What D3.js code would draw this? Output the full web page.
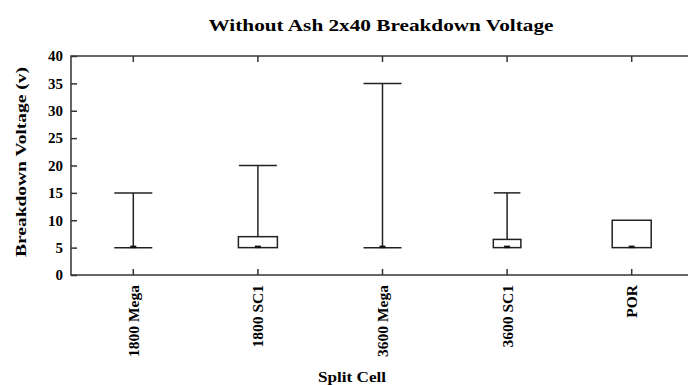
<!DOCTYPE html>
<html><head><meta charset="utf-8">
<script src="https://cdn.jsdelivr.net/npm/d3@7/dist/d3.min.js"></script>
<style>
html,body{margin:0;padding:0;background:#fff;}
svg{display:block;}
</style></head>
<body>
<svg id="chart" width="688" height="385"></svg>
<script>
const categories = ["1800 Mega", "1800 SC1", "3600 Mega", "3600 SC1", "POR"];
const minVals    = [5, 5, 5, 5, 5];
const q1Vals     = [5, 5, 5, 5, 5];
const medianVals = [5, 5, 5, 5, 5];
const q3Vals     = [5, 7, 5, 6.5, 10];
const maxVals    = [15, 20, 35, 15, 10];
const counts     = [2, 2, 2, 1, 2];
const yTicks     = [0, 5, 10, 15, 20, 25, 30, 35, 40];

(function () {
const FONT = "'Liberation Serif', 'Times New Roman', Times, serif";
const svg = d3.select("#chart");
const mLeft = 71, mRight = 694, mTop = 56, mBottom = 275;

const x = d3.scaleBand().domain(categories).range([mLeft, mRight]);
const y = d3.scaleLinear().domain([0, 40]).range([mBottom, mTop]);
const w = d3.scaleSqrt().domain([0, 2]).range([0, 39]);

svg.append("rect").attr("x", mLeft).attr("y", mTop)
  .attr("width", mRight - mLeft).attr("height", mBottom - mTop)
  .attr("fill", "none").attr("stroke", "#333").attr("stroke-width", 1.5);

const yAxis = d3.axisLeft(y).tickValues(yTicks).tickSize(-6);
const gy = svg.append("g").attr("transform", `translate(${mLeft},0)`).call(yAxis);
gy.select(".domain").remove();
gy.selectAll(".tick line").attr("stroke", "#333").attr("stroke-width", 1.5);
gy.selectAll(".tick text").attr("font-family", FONT).attr("font-weight", "bold")
  .attr("font-size", 15).attr("fill", "#000").attr("x", -8);
const gr = svg.append("g").attr("transform", `translate(${mRight},0)`)
  .call(d3.axisRight(y).tickValues(yTicks).tickSize(-6).tickFormat(""));
gr.select(".domain").remove();
gr.selectAll(".tick line").attr("stroke", "#333").attr("stroke-width", 1.5);

const gx = svg.append("g").attr("transform", `translate(0,${mBottom})`)
  .call(d3.axisBottom(x).tickSize(-6).tickSizeOuter(0));
gx.select(".domain").remove();
gx.selectAll(".tick line").attr("stroke", "#333").attr("stroke-width", 1.5);
gx.selectAll(".tick text")
  .attr("font-family", FONT).attr("font-weight", "bold").attr("font-size", 15.5).attr("fill", "#000")
  .attr("transform", "rotate(-90)")
  .attr("text-anchor", "end")
  .attr("x", -10).attr("y", 0).attr("dy", "0.35em");
const gt = svg.append("g").attr("transform", `translate(0,${mTop})`)
  .call(d3.axisTop(x).tickSize(-6).tickSizeOuter(0).tickFormat(""));
gt.select(".domain").remove();
gt.selectAll(".tick line").attr("stroke", "#333").attr("stroke-width", 1.5);

const data = categories.map((c, i) => ({c, min: minVals[i], q1: q1Vals[i], med: medianVals[i], q3: q3Vals[i], max: maxVals[i], n: counts[i]}));
const g = svg.append("g");
data.forEach(d => {
  const cx = x(d.c) + x.bandwidth() / 2;
  const bw = w(d.n);
  const capW = bw - 1;
  const s = "#222";
  if (d.max > d.q3) {
    g.append("line").attr("x1", cx).attr("x2", cx).attr("y1", y(d.q3)).attr("y2", y(d.max)).attr("stroke", s).attr("stroke-width", 1.5);
    g.append("line").attr("x1", cx - capW / 2).attr("x2", cx + capW / 2).attr("y1", y(d.max)).attr("y2", y(d.max)).attr("stroke", s).attr("stroke-width", 1.5);
  }
  if (d.q3 > d.q1) {
    g.append("rect").attr("x", cx - bw / 2).attr("y", y(d.q3)).attr("width", bw).attr("height", y(d.q1) - y(d.q3))
      .attr("fill", "none").attr("stroke", s).attr("stroke-width", 1.5);
  } else {
    g.append("line").attr("x1", cx - capW / 2).attr("x2", cx + capW / 2).attr("y1", y(d.min)).attr("y2", y(d.min)).attr("stroke", s).attr("stroke-width", 1.5);
  }
  g.append("rect").attr("x", cx - 3).attr("y", y(d.med) - 2).attr("width", 6).attr("height", 2.5).attr("fill", "#111");
});

function label(t) {
  return svg.append("text").attr("font-family", FONT).attr("font-weight", "bold").attr("fill", "#000").text(t);
}
label("Without Ash 2x40 Breakdown Voltage").attr("x", 381).attr("y", 31).attr("text-anchor", "middle")
  .attr("font-size", 17).attr("textLength", 345).attr("lengthAdjust", "spacingAndGlyphs");
label("Breakdown Voltage (v)").attr("transform", "translate(26,162) rotate(-90)").attr("text-anchor", "middle")
  .attr("font-size", 15).attr("textLength", 190).attr("lengthAdjust", "spacingAndGlyphs");
label("Split Cell").attr("x", 352).attr("y", 382).attr("text-anchor", "middle")
  .attr("font-size", 15).attr("textLength", 68).attr("lengthAdjust", "spacingAndGlyphs");
})();
</script>
</body></html>
